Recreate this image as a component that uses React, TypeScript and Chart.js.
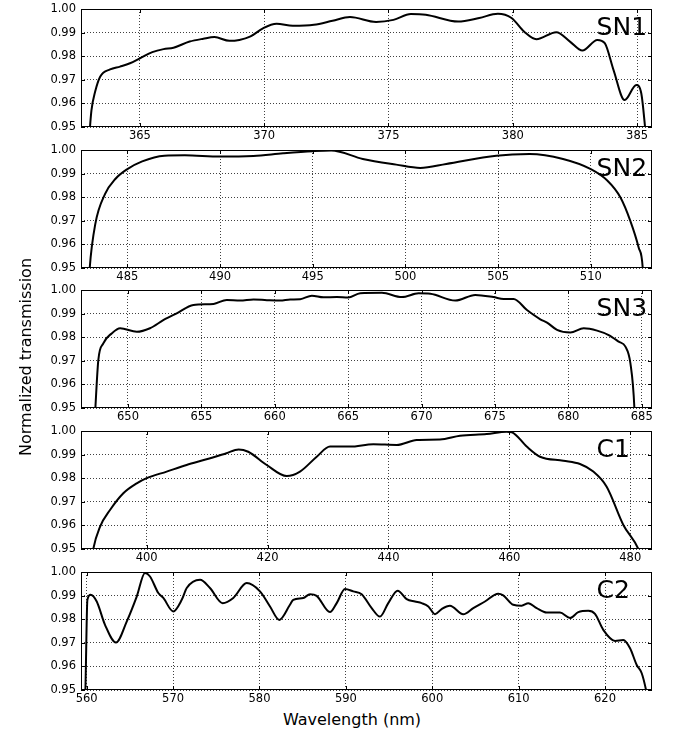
import React, { useEffect, useRef } from 'react';
import { Chart, registerables } from 'chart.js';

Chart.register(...registerables);

// ---------------- DATA ----------------
const yTicks = [0.95, 0.96, 0.97, 0.98, 0.99, 1.0];
const yRange = [0.95, 1.0];

const sn1Wavelength = [362.92, 363.05, 363.2, 363.4, 363.8, 364.2, 364.6, 365.0, 365.5, 365.95, 366.35, 367.0, 367.55, 368.0, 368.6, 369.0, 369.45, 369.95, 370.5, 371.15, 372.0, 372.75, 373.45, 374.5, 375.2, 375.9, 376.5, 377.8, 378.65, 379.4, 379.95, 380.45, 380.95, 381.75, 382.3, 382.8, 383.4, 383.7, 384.05, 384.5, 384.97, 385.17, 385.32, 385.4];
const sn1Transmission = [0.94, 0.957, 0.965, 0.9713, 0.9744, 0.9756, 0.977, 0.9791, 0.9817, 0.983, 0.9836, 0.9862, 0.9874, 0.9881, 0.9865, 0.9869, 0.9884, 0.9918, 0.9937, 0.9929, 0.9933, 0.995, 0.9966, 0.9945, 0.9954, 0.9979, 0.9976, 0.9947, 0.9962, 0.998, 0.9962, 0.9905, 0.9872, 0.9902, 0.9862, 0.9824, 0.9869, 0.9855, 0.9742, 0.9614, 0.9678, 0.9642, 0.95, 0.94];
const sn1Ticks = [365, 370, 375, 380, 385];
const sn1Range = [362.63, 385.6];

const sn2Wavelength = [482.9, 482.97, 483.27, 483.8, 484.35, 485.0, 485.8, 487.0, 488.1, 490.0, 491.8, 493.4, 495.0, 496.0, 497.7, 499.5, 500.8, 502.2, 504.9, 506.7, 508.5, 510.0, 510.9, 511.6, 512.13, 512.58, 512.8, 512.85];
const sn2Transmission = [0.94, 0.95, 0.9686, 0.9814, 0.9877, 0.9919, 0.9952, 0.9976, 0.9978, 0.9972, 0.9975, 0.9986, 0.9995, 0.9998, 0.9962, 0.9938, 0.9924, 0.9941, 0.9976, 0.9983, 0.9962, 0.9919, 0.987, 0.9799, 0.97, 0.9587, 0.95, 0.94];
const sn2Ticks = [485, 490, 495, 500, 505, 510];
const sn2Range = [482.5, 513.3];

const sn3Wavelength = [647.7, 647.78, 647.98, 648.32, 648.89, 649.47, 650.6, 651.5, 652.43, 653.32, 654.46, 655.83, 656.73, 657.64, 658.55, 659.46, 660.37, 661.05, 661.73, 662.53, 663.32, 664.23, 665.0, 665.82, 667.3, 668.66, 669.8, 670.6, 672.3, 673.66, 674.9, 675.59, 676.27, 677.18, 678.09, 678.55, 679.23, 680.14, 681.05, 681.96, 682.75, 683.43, 683.89, 684.23, 684.5, 684.55];
const sn3Transmission = [0.94, 0.95, 0.9703, 0.9774, 0.9816, 0.9838, 0.9823, 0.9838, 0.9873, 0.9901, 0.9936, 0.9941, 0.9958, 0.9955, 0.996, 0.9957, 0.9955, 0.996, 0.9961, 0.9976, 0.9969, 0.997, 0.9968, 0.9986, 0.9988, 0.997, 0.9986, 0.9984, 0.9955, 0.9979, 0.997, 0.9962, 0.9962, 0.9915, 0.9876, 0.9862, 0.9831, 0.982, 0.9838, 0.9828, 0.9809, 0.9781, 0.976, 0.9689, 0.95, 0.94];
const sn3Ticks = [650, 655, 660, 665, 670, 675, 680, 685];
const sn3Range = [646.8, 685.7];

const c1Wavelength = [391.0, 391.16, 392.27, 393.93, 396.13, 398.35, 400.0, 403.3, 406.6, 409.9, 413.2, 415.2, 416.8, 419.85, 423.16, 425.36, 428.13, 430.33, 433.64, 437.5, 441.36, 444.67, 448.53, 451.84, 456.25, 459.56, 460.4, 462.87, 465.07, 468.93, 471.69, 473.89, 476.1, 478.86, 481.34, 481.6];
const c1Transmission = [0.947, 0.95, 0.9594, 0.9665, 0.9736, 0.9778, 0.98, 0.9828, 0.9856, 0.988, 0.9906, 0.9922, 0.9912, 0.9856, 0.9809, 0.9828, 0.9891, 0.9934, 0.9934, 0.9944, 0.9941, 0.9962, 0.9964, 0.998, 0.9987, 0.9997, 0.9995, 0.9934, 0.9891, 0.9874, 0.986, 0.9828, 0.9764, 0.9602, 0.95, 0.948];
const c1Ticks = [400, 420, 440, 460, 480];
const c1Range = [389.13, 483.6];

const c2Wavelength = [559.75, 559.85, 560.08, 560.46, 561.16, 562.12, 563.39, 564.63, 565.79, 566.75, 567.33, 568.29, 568.87, 570.02, 571.0, 571.58, 573.12, 574.27, 575.74, 576.97, 578.52, 580.06, 581.22, 582.3, 583.53, 583.91, 585.07, 585.85, 586.62, 588.16, 588.94, 589.9, 590.86, 591.83, 592.99, 593.95, 594.91, 596.0, 597.04, 598.0, 598.78, 599.55, 600.32, 601.09, 602.05, 603.59, 604.75, 606.1, 607.64, 608.22, 609.38, 610.35, 611.12, 612.09, 613.25, 614.79, 615.95, 616.91, 618.07, 618.84, 619.8, 621.16, 622.12, 622.9, 623.67, 624.25, 624.75, 624.85];
const c2Transmission = [0.94, 0.95, 0.9882, 0.9904, 0.9875, 0.9776, 0.9701, 0.979, 0.9896, 0.9996, 0.9981, 0.9911, 0.989, 0.9833, 0.9882, 0.9932, 0.9967, 0.9932, 0.9868, 0.989, 0.9953, 0.9918, 0.9854, 0.9797, 0.9861, 0.9882, 0.989, 0.9906, 0.9899, 0.983, 0.9868, 0.9928, 0.9918, 0.9906, 0.9847, 0.9811, 0.9868, 0.9921, 0.9885, 0.9875, 0.9868, 0.9854, 0.9821, 0.9843, 0.9857, 0.9821, 0.9847, 0.9875, 0.9908, 0.9901, 0.9861, 0.9857, 0.9868, 0.9847, 0.9828, 0.9828, 0.9805, 0.983, 0.9836, 0.9823, 0.9755, 0.9708, 0.9712, 0.9677, 0.9606, 0.9571, 0.95, 0.948];
const c2Ticks = [560, 570, 580, 590, 600, 610, 620];
const c2Range = [559.34, 625.44];

const panelNames = ['SN1', 'SN2', 'SN3', 'C1', 'C2'];
const xLabel = 'Wavelength (nm)';
const yLabel = 'Normalized transmission';

type PanelData = { name: string; wl: number[]; tr: number[]; ticks: number[]; range: number[] };
const panels: PanelData[] = [
  { name: panelNames[0], wl: sn1Wavelength, tr: sn1Transmission, ticks: sn1Ticks, range: sn1Range },
  { name: panelNames[1], wl: sn2Wavelength, tr: sn2Transmission, ticks: sn2Ticks, range: sn2Range },
  { name: panelNames[2], wl: sn3Wavelength, tr: sn3Transmission, ticks: sn3Ticks, range: sn3Range },
  { name: panelNames[3], wl: c1Wavelength, tr: c1Transmission, ticks: c1Ticks, range: c1Range },
  { name: panelNames[4], wl: c2Wavelength, tr: c2Transmission, ticks: c2Ticks, range: c2Range },
];

// ---------------- LAYOUT ----------------
const W = 676;
const PANEL_TOPS = [9, 150, 290, 431, 572];
const PANEL_H = 118;
const PAD_TOP = 14;
const AXIS_H = 20;
const LEFT = 81;
const RIGHT_PAD = 24;
const FONT = "'DejaVu Sans', 'Liberation Sans', sans-serif";

function Panel({ panel, top }: { panel: PanelData; top: number }) {
  const ref = useRef<HTMLCanvasElement>(null);
  useEffect(() => {
    if (!ref.current) return;
    const framePlugin = {
      id: 'frame',
      afterDraw(chart: any) {
        const { ctx, chartArea: a } = chart;
        const xs = chart.scales.x;
        const ys = chart.scales.y;
        ctx.save();
        ctx.strokeStyle = '#000';
        ctx.lineWidth = 1;
        ctx.setLineDash([]);
        ctx.beginPath();
        for (const v of panel.ticks) {
          const px = Math.round(xs.getPixelForValue(v)) + 0.5;
          ctx.moveTo(px, a.bottom);
          ctx.lineTo(px, a.bottom - 4);
          ctx.moveTo(px, a.top);
          ctx.lineTo(px, a.top + 4);
        }
        for (const v of yTicks) {
          const py = Math.round(ys.getPixelForValue(v)) + 0.5;
          ctx.moveTo(a.left, py);
          ctx.lineTo(a.left + 4, py);
          ctx.moveTo(a.right, py);
          ctx.lineTo(a.right - 4, py);
        }
        ctx.stroke();
        const l = Math.round(a.left) + 0.5;
        const t = Math.round(a.top) + 0.5;
        const r = Math.round(a.right) - 0.5;
        const b = Math.round(a.bottom) - 0.5;
        ctx.strokeRect(l, t, r - l, b - t);
        ctx.font = `25px ${FONT}`;
        ctx.fillStyle = '#000';
        ctx.textAlign = 'left';
        ctx.textBaseline = 'alphabetic';
        ctx.fillText(panel.name, a.left + 0.903 * (a.right - a.left), a.top + 25.5);
        ctx.restore();
      },
    };
    const chart = new Chart(ref.current, {
      type: 'line',
      data: {
        datasets: [
          {
            data: panel.wl.map((x, i) => ({ x, y: panel.tr[i] })),
            borderColor: '#000',
            borderWidth: 2,
            pointRadius: 0,
            fill: false,
            cubicInterpolationMode: 'monotone',
          },
        ],
      },
      options: {
        animation: false,
        responsive: false,
        layout: { padding: { top: PAD_TOP, left: 0, right: RIGHT_PAD, bottom: 0 } },
        plugins: { legend: { display: false }, tooltip: { enabled: false } },
        scales: {
          x: {
            type: 'linear',
            min: panel.range[0],
            max: panel.range[1],
            afterBuildTicks: (s: any) => {
              s.ticks = panel.ticks.map((v) => ({ value: v }));
            },
            afterFit: (s: any) => {
              s.height = AXIS_H;
            },
            ticks: {
              color: '#000',
              font: { family: FONT, size: 11.5 },
              padding: 2,
              maxRotation: 0,
              autoSkip: false,
              callback: (v: any) => String(v),
            },
            grid: { color: 'rgba(0,0,0,0.75)', lineWidth: 1, drawTicks: false },
            border: { display: false, dash: [1, 2] },
          },
          y: {
            type: 'linear',
            min: yRange[0],
            max: yRange[1],
            afterBuildTicks: (s: any) => {
              s.ticks = yTicks.map((v) => ({ value: v }));
            },
            afterFit: (s: any) => {
              s.width = LEFT;
            },
            ticks: {
              color: '#000',
              font: { family: FONT, size: 11.5 },
              padding: 5,
              autoSkip: false,
              callback: (v: any) => Number(v).toFixed(2),
            },
            grid: { color: 'rgba(0,0,0,0.75)', lineWidth: 1, drawTicks: false },
            border: { display: false, dash: [1, 2] },
          },
        },
      } as any,
      plugins: [framePlugin],
    });
    return () => chart.destroy();
  }, [panel]);
  const h = PAD_TOP + PANEL_H + AXIS_H;
  return (
    <canvas
      ref={ref}
      width={W}
      height={h}
      style={{ position: 'absolute', left: 0, top: top - PAD_TOP, width: W, height: h }}
    />
  );
}

export default function App() {
  return (
    <div
      style={{
        position: 'absolute',
        left: 0,
        top: 0,
        width: W,
        height: 733,
        background: '#fff',
        overflow: 'hidden',
      }}
    >
      {panels.map((p, i) => (
        <Panel key={p.name} panel={p} top={PANEL_TOPS[i]} />
      ))}
      <div
        style={{
          position: 'absolute',
          left: 352,
          top: 711.5,
          transform: 'translateX(-50%)',
          fontFamily: FONT,
          fontSize: 16,
          lineHeight: '16px',
          whiteSpace: 'nowrap',
          color: '#000',
        }}
      >
        {xLabel}
      </div>
      <div
        style={{
          position: 'absolute',
          left: 26 - 150,
          top: 356.5 - 8,
          width: 300,
          height: 16,
          textAlign: 'center',
          transform: 'rotate(-90deg)',
          fontFamily: FONT,
          fontSize: 16,
          lineHeight: '16px',
          whiteSpace: 'nowrap',
          color: '#000',
        }}
      >
        {yLabel}
      </div>
    </div>
  );
}
